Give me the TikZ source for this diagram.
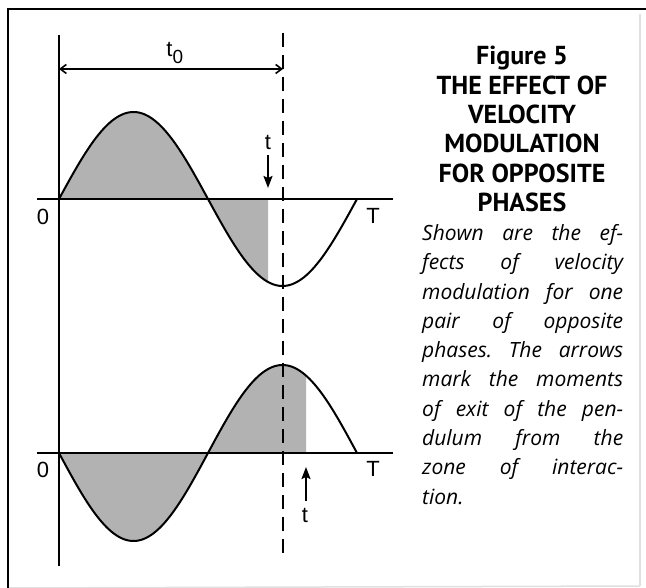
\documentclass[tikz,border=0pt]{standalone}
\usepackage{fontspec}
\setmainfont{Open Sans}
\newfontfamily\lblfont{Liberation Sans}
\newfontfamily\ttlfont{PT Sans}
\usetikzlibrary{arrows.meta}
\definecolor{shadegray}{RGB}{178,178,178}
\tikzset{
  frameline/.style={line width=2pt, line cap=rect},
  faintline/.style={line width=1.5pt, black!12},
  axisline/.style={line width=1.8pt},
  curveline/.style={line width=2pt, line join=round},
  shadefill/.style={fill=shadegray},
  dashline/.style={line width=2.4pt, dash pattern=on 14pt off 8pt},
  dimarrow/.style={line width=1.8pt, {Straight Barb[length=6pt,width=9pt,line width=1.6pt]}-{Straight Barb[length=6pt,width=9pt,line width=1.6pt]}},
  marrow/.style={line width=1.8pt, -{Stealth[length=12pt,width=9pt,inset=2pt]}},
  lbl/.style={font=\lblfont\fontsize{22}{22}\selectfont, inner sep=0pt},
  ttl/.style={font=\ttlfont\bfseries\fontsize{26}{26}\selectfont, inner sep=0pt, anchor=base},
  bodyline/.style={font=\itshape\fontsize{21}{21}\selectfont, inner sep=0pt, anchor=base west}
}
\newcommand{\jline}[1]{\hbox to 201pt{#1}}
\begin{document}
\begin{tikzpicture}[x=1pt,y=1pt]
\useasboundingbox (0,0) rectangle (646,-588);
\fill[white] (0,0) rectangle (646,-588);
% frame
\coordinate (fTL) at (8,-9);
\coordinate (fTR) at (646,-9);
\coordinate (fBL) at (8,-588);
\coordinate (fBR) at (640,-586);
\coordinate (fRT) at (640,-14);
\draw[faintline] (fBL) -- (fBR);
\draw[faintline] (fRT) -- (fBR);
\draw[frameline] (fBL) -- (fTL) -- (fTR);

% shading
\fill[shadefill] (59,-199) -- plot[domain=0:252.5, samples=90] ({59+0.827778*\x},{-199+87*sin(\x)}) -- (268,-199) -- cycle;
\fill[shadefill] (59,-453) -- plot[domain=0:298.4, samples=100] ({59+0.827778*\x},{-453-88*sin(\x)}) -- (306,-453) -- cycle;

% axes
\coordinate (vTop) at (59,-35);
\coordinate (vBot) at (59,-566);
\coordinate (uL) at (37,-199);
\coordinate (uR) at (393,-199);
\coordinate (lL) at (37,-453);
\coordinate (lR) at (393,-453);
\draw[axisline] (vTop) -- (vBot);
\draw[axisline] (uL) -- (uR);
\draw[axisline] (lL) -- (lR);

% curves
\draw[curveline] plot[domain=0:360, samples=120] ({59+0.827778*\x},{-199+87*sin(\x)});
\draw[curveline] plot[domain=0:360, samples=120] ({59+0.827778*\x},{-453-88*sin(\x)});

% dashed line
\coordinate (dTop) at (283,-33);
\coordinate (dBot) at (283,-559);
\draw[dashline] (dTop) -- (dBot);

% t0 dimension
\coordinate (t0a) at (59,-69);
\coordinate (t0b) at (283,-69);
\draw[dimarrow] (t0a) -- (t0b);
\node[lbl] (t0lbl) at (175,-53) {t\textsubscript{\fontsize{19}{19}\selectfont 0}};

% exit arrows
\coordinate (uaTail) at (268,-155);
\coordinate (uaTip) at (268,-188);
\draw[marrow] (uaTail) -- (uaTip);
\node[lbl] (utlbl) at (268,-142) {t};
\coordinate (laTail) at (306,-501);
\coordinate (laTip) at (306,-467);
\draw[marrow] (laTail) -- (laTip);
\node[lbl] (ltlbl) at (305,-515) {t};

% axis labels
\node[lbl] (u0) at (43,-217) {0};
\node[lbl] (uT) at (373,-216) {T};
\node[lbl] (l0) at (43,-470) {0};
\node[lbl] (lT) at (373,-469) {T};

% title
\node[ttl] (ttl1) at (522,-65.0) {Figure 5};
\node[ttl] (ttl2) at (522,-94.3) {THE EFFECT OF};
\node[ttl] (ttl3) at (522,-123.5) {VELOCITY};
\node[ttl] (ttl4) at (522,-152.8) {MODULATION};
\node[ttl] (ttl5) at (522,-182.1) {FOR OPPOSITE};
\node[ttl] (ttl6) at (522,-211.4) {PHASES};

% body
\node[bodyline] (b1) at (422,-240.6) {\jline{Shown\hfill are\hfill the\hfill ef-}};
\node[bodyline] (b2) at (422,-269.9) {\jline{fects\hfill of\hfill velocity}};
\node[bodyline] (b3) at (422,-299.2) {\jline{modulation\hfill for\hfill one}};
\node[bodyline] (b4) at (422,-328.4) {\jline{pair\hfill of\hfill opposite}};
\node[bodyline] (b5) at (422,-357.7) {\jline{phases.\hfill The\hfill arrows}};
\node[bodyline] (b6) at (422,-387.0) {\jline{mark\hfill the\hfill moments}};
\node[bodyline] (b7) at (422,-416.3) {\jline{of\hfill exit\hfill of\hfill the\hfill pen-}};
\node[bodyline] (b8) at (422,-445.5) {\jline{dulum\hfill from\hfill the}};
\node[bodyline] (b9) at (422,-474.8) {\jline{zone\hfill of\hfill interac-}};
\node[bodyline] (b10) at (422,-504.1) {tion.};
\end{tikzpicture}
\end{document}
